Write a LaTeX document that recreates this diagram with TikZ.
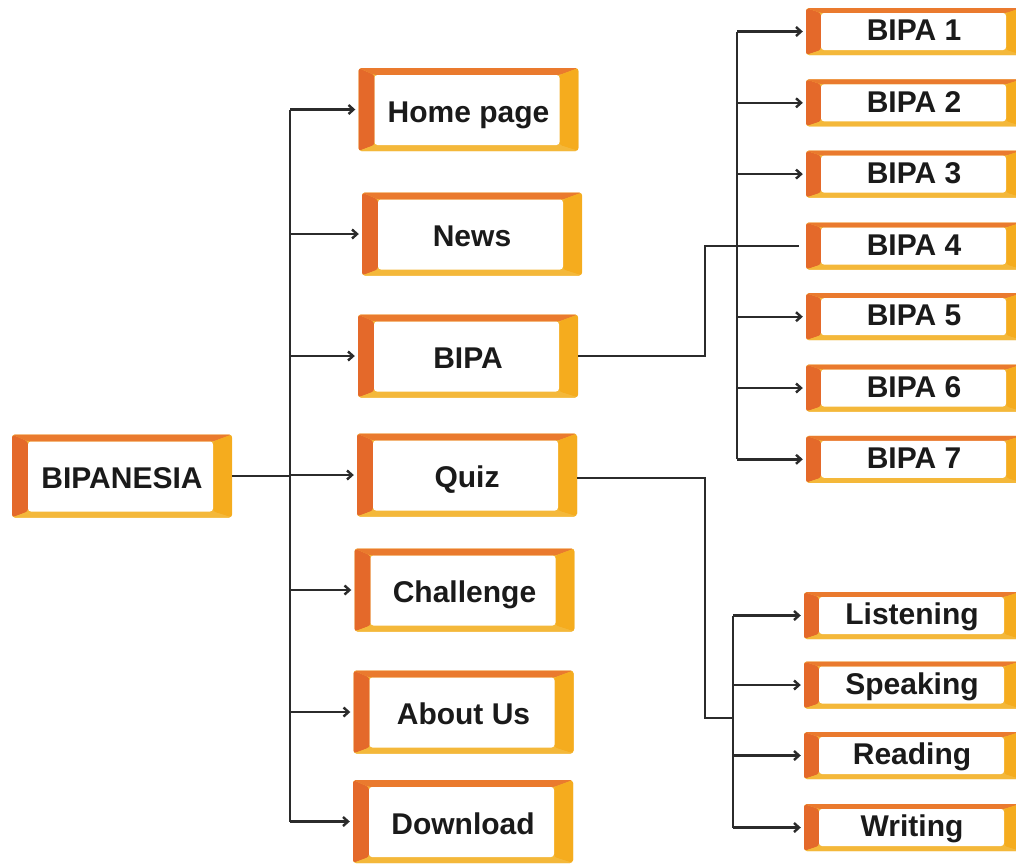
\documentclass[tikz,border=0pt]{standalone}
\usepackage{fontspec}
\setmainfont{Liberation Sans}
\usetikzlibrary{arrows.meta,calc}
\definecolor{cL}{HTML}{E4692A}
\definecolor{cT}{HTML}{EA7A2E}
\definecolor{cR}{HTML}{F5AC1E}
\definecolor{cB}{HTML}{F4B83A}
\definecolor{txt}{HTML}{1A1A1A}
\definecolor{ln}{HTML}{2B2B2B}
\newcommand\frameparts[4]{%
 \fill[cL] let \p1=(path picture bounding box.south west),\p2=(path picture bounding box.north east) in (\x1,\y1) -- (\x1+#1,\y1+#4) -- (\x1+#1,\y2-#3) -- (\x1,\y2) -- cycle;
 \fill[cT] let \p1=(path picture bounding box.south west),\p2=(path picture bounding box.north east) in (\x1,\y2) -- (\x1+#1,\y2-#3) -- (\x2-#2,\y2-#3) -- (\x2,\y2) -- cycle;
 \fill[cR] let \p1=(path picture bounding box.south west),\p2=(path picture bounding box.north east) in (\x2,\y2) -- (\x2-#2,\y2-#3) -- (\x2-#2,\y1+#4) -- (\x2,\y1) -- cycle;
 \fill[cB] let \p1=(path picture bounding box.south west),\p2=(path picture bounding box.north east) in (\x2,\y1) -- (\x2-#2,\y1+#4) -- (\x1+#1,\y1+#4) -- (\x1,\y1) -- cycle;
 \fill[white] let \p1=(path picture bounding box.south west),\p2=(path picture bounding box.north east) in (\x1+#1,\y1+#4) rectangle (\x2-#2,\y2-#3);
}
\tikzset{
 mainbox/.style={minimum width=220pt, minimum height=83pt, rounded corners=3pt, inner sep=0pt, fill=cB,
   text height=27pt, text depth=1.5pt,
   font=\bfseries\fontsize{30}{36}\selectfont, text=txt, path picture={\frameparts{16pt}{19pt}{7pt}{6pt}}},
 subbox/.style={minimum width=216pt, minimum height=47pt, rounded corners=3pt, inner sep=0pt, fill=cB,
   text height=20pt, text depth=1.5pt,
   font=\bfseries\fontsize{30}{36}\selectfont, text=txt, path picture={\frameparts{15pt}{16pt}{5pt}{5pt}}},
 line/.style={draw=ln, line width=2.4pt},
 arr/.style={line, -{Straight Barb[length=5pt,width=9pt]}, shorten >=3pt},
}
\begin{document}
\begin{tikzpicture}[x=1pt,y=1pt]
\clip (0,0) rectangle (1016,-863);
\fill[white] (0,0) rectangle (1016,-863);
% main column
\node[mainbox] (root) at (122,-476) {BIPANESIA};
\node[mainbox] (home) at (468.5,-109.5) {Home page};
\node[mainbox] (news) at (472,-234) {News};
\node[mainbox] (bipa) at (468,-356) {BIPA};
\node[mainbox] (quiz) at (467,-475) {Quiz};
\node[mainbox] (challenge) at (464.5,-590) {Challenge};
\node[mainbox] (about) at (463.5,-712) {About Us};
\node[mainbox] (download) at (463,-821.5) {Download};
% BIPA levels
\node[subbox] (bipa1) at (914,-31.5) {BIPA 1};
\node[subbox] (bipa2) at (914,-102.8) {BIPA 2};
\node[subbox] (bipa3) at (914,-174.1) {BIPA 3};
\node[subbox] (bipa4) at (914,-246) {BIPA 4};
\node[subbox] (bipa5) at (914,-316.7) {BIPA 5};
\node[subbox] (bipa6) at (914,-388) {BIPA 6};
\node[subbox] (bipa7) at (914,-459.3) {BIPA 7};
% quiz skills
\node[subbox] (listen) at (912,-615.5) {Listening};
\node[subbox] (speak) at (912,-685) {Speaking};
\node[subbox] (read) at (912,-755.5) {Reading};
\node[subbox] (write) at (912,-827.5) {Writing};
% bus coordinates
\coordinate (b0) at (290,0);
\coordinate (j1) at (705,0);
\coordinate (b1) at (737,0);
\coordinate (b2) at (733,0);
\coordinate (j2) at (733,-718);
% main connectors
\draw[line] (root.east) -- (root.east -| b0);
\draw[line] (home.west -| b0) -- (download.west -| b0);
\foreach \n in {home,news,bipa,quiz,challenge,about,download}
  \draw[arr] (\n.west -| b0) -- (\n.west);
% BIPA connectors
\draw[line] (bipa.east) -- (bipa.east -| j1) |- ([xshift=-7pt]bipa4.west);
\draw[line] (bipa1.west -| b1) -- (bipa7.west -| b1);
\foreach \n in {bipa1,bipa2,bipa3,bipa5,bipa6,bipa7}
  \draw[arr] (\n.west -| b1) -- (\n.west);
% Quiz connectors
\draw[line] ([yshift=-3pt]quiz.east) -- ([yshift=-3pt]quiz.east -| j1) |- (j2);
\draw[line] (listen.west -| b2) -- (write.west -| b2);
\foreach \n in {listen,speak,read,write}
  \draw[arr] (\n.west -| b2) -- (\n.west);
\end{tikzpicture}
\end{document}
